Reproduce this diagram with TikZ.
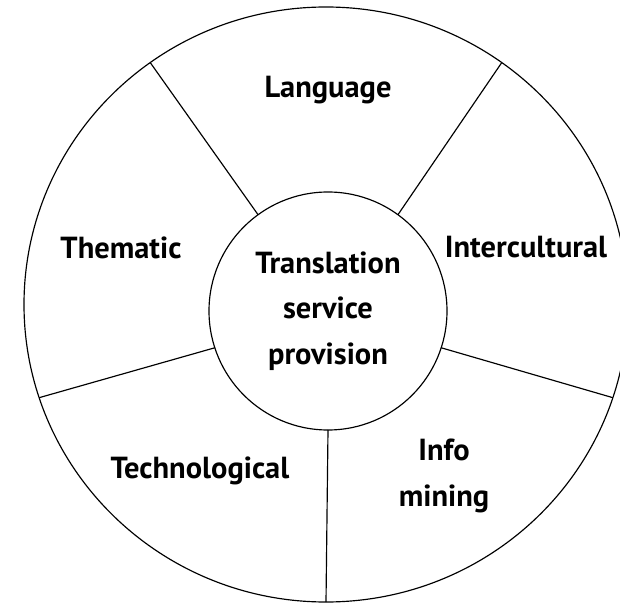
\documentclass[tikz,border=0pt]{standalone}
\usepackage{fontspec}
\setmainfont{PT Sans}
\usetikzlibrary{shapes.geometric}

\begin{document}
\begin{tikzpicture}[x=0.3mm,y=-0.3mm,line width=0.35mm,
            lbl/.style={font=\fontsize{26}{39}\selectfont\bfseries,align=center}]
            \useasboundingbox (0,0) rectangle (620,603);
            \node (R) at (326,304.5) [draw,ellipse,minimum width=181.2mm,minimum height=178.5mm,inner sep=0,outer sep=0] {};
            \node (C) at (328,311) [draw,circle,minimum size=71.4mm,inner sep=0,outer sep=0,lbl] {Translation\\service\\provision};
            \draw (C.54) -- (R.54);
            \draw (C.126) -- (R.126);
            \draw (C.198) -- (R.198);
            \draw (C.270) -- (R.270);
            \draw (C.342) -- (R.342);
            \node (L) at (328,90) [lbl] {Language};
            \node (T) at (121,248) [lbl] {Thematic};
            \node (I) at (526,247) [lbl] {Intercultural};
            \node (G) at (200,471) [lbl] {Technological};
            \node (M) at (444,476) [lbl] {Info\\mining};
        \end{tikzpicture}
\end{document}
